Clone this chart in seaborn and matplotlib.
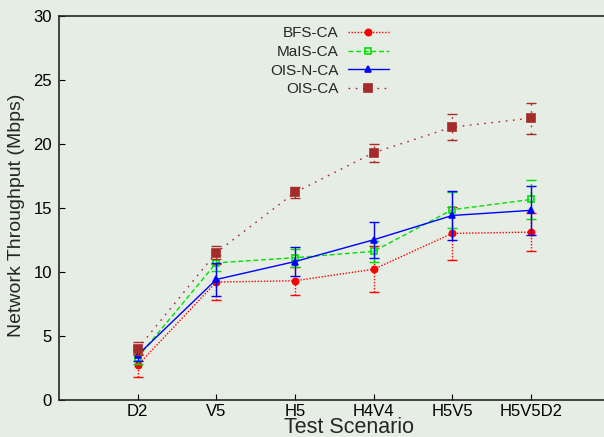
import numpy as np
import pandas as pd
import matplotlib
matplotlib.use('Agg')
import matplotlib.pyplot as plt
import seaborn as sns

# === data ===
scenarios = ['D2', 'V5', 'H5', 'H4V4', 'H5V5', 'H5V5D2']

bfs_ca = [2.7, 9.2, 9.3, 10.2, 13.0, 13.1]
bfs_err = [0.9, 1.4, 1.1, 1.8, 2.1, 1.5]

mais_ca = [3.3, 10.7, 11.1, 11.6, 14.85, 15.65]
mais_err = [0.5, 0.6, 0.7, 0.8, 1.4, 1.5]

oisn_ca = [3.5, 9.4, 10.8, 12.5, 14.4, 14.8]
oisn_err = [0.5, 1.25, 1.1, 1.4, 1.95, 1.9]

ois_ca = [4.0, 11.5, 16.2, 19.3, 21.3, 22.0]
ois_err = [0.5, 0.5, 0.4, 0.7, 1.0, 1.2]

series = [
    ('BFS-CA', bfs_ca, bfs_err, '#ff0000', 'o', (1, 1.2), True),
    ('MaIS-CA', mais_ca, mais_err, '#00e000', 's', (3.5, 2), False),
    ('OIS-N-CA', oisn_ca, oisn_err, '#0000ff', '^', None, True),
    ('OIS-CA', ois_ca, ois_err, '#a52a2a', 's', (1.2, 4), True),
]

bg = '#e5ede4'
sns.set_style('ticks')
plt.rcParams['font.family'] = ['Liberation Sans', 'DejaVu Sans']

fig = plt.figure(figsize=(6.04, 4.37), dpi=100, facecolor=bg)
ax = fig.add_axes([0.0977, 0.085, 0.905, 0.879])
ax.set_facecolor(bg)

x = np.arange(len(scenarios))
for name, vals, errs, col, mk, dash, filled in series:
    df = pd.DataFrame({'x': x, 'y': vals})
    sns.lineplot(data=df, x='x', y='y', ax=ax, color=col, lw=1,
                 marker=mk, markersize=5.5 if name == 'OIS-CA' else 4.5,
                 markerfacecolor=col if filled else 'none',
                 markeredgecolor=col, markeredgewidth=1.2, label=name,
                 dashes=False)
    line = ax.get_lines()[-1]
    if dash is not None:
        line.set_dashes(dash)
    eb = ax.errorbar(x, vals, yerr=errs, fmt='none', ecolor=col,
                     elinewidth=1, capsize=3.5, capthick=1)
    if dash is not None:
        eb[2][0].set_linestyle((0, dash))

ax.set_xlim(-1.0, 5.95)
ax.set_ylim(0, 30)
ax.set_xticks(x)
ax.set_xticklabels(scenarios)
ax.set_yticks([0, 5, 10, 15, 20, 25, 30])
ax.tick_params(direction='in', length=4, labelsize=12, colors='black')
ax.tick_params(axis='x', pad=3)
ax.tick_params(axis='y', pad=5)
for s in ['left', 'bottom', 'top']:
    ax.spines[s].set_linewidth(1.2)
ax.spines['right'].set_visible(False)

ax.set_xlabel('Test Scenario', fontsize=15.5)
ax.xaxis.set_label_coords(0.531, -0.044)
ax.set_ylabel('Network Throughput (Mbps)', fontsize=14)
ax.yaxis.set_label_coords(-0.0625, 0.48)

ax.legend(loc='upper center', bbox_to_anchor=(0.495, 1.008), frameon=False,
          markerfirst=False, fontsize=11, handlelength=2.7,
          labelspacing=0.3, handletextpad=0.6)

fig.savefig('out.png', dpi=100, facecolor=bg)
